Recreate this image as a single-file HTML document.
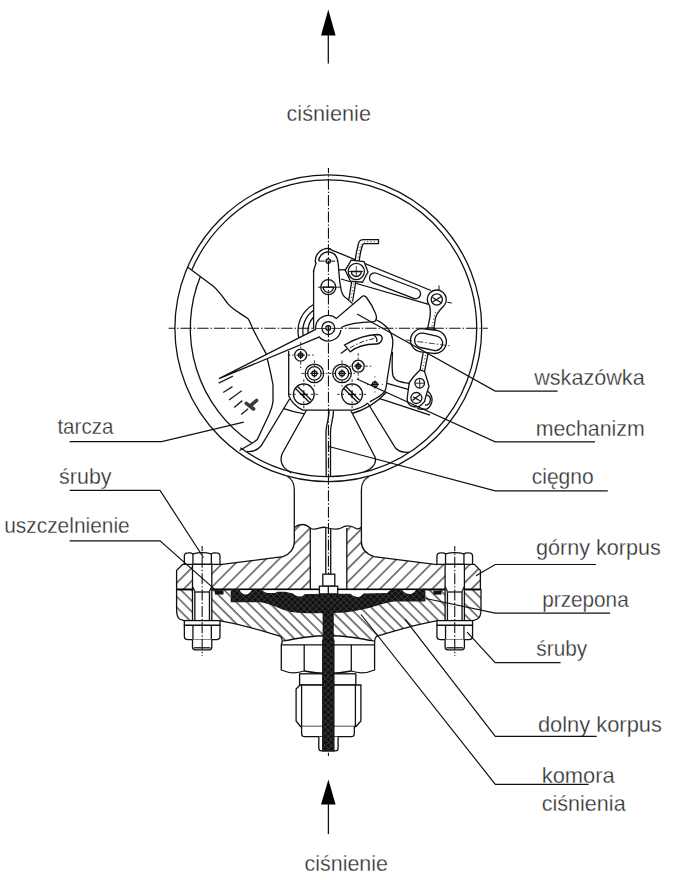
<!DOCTYPE html>
<html><head><meta charset="utf-8"><style>html,body{margin:0;padding:0;background:#fff}svg{display:block}</style></head>
<body><svg width="690" height="880" viewBox="0 0 690 880">
<defs>
<style>
.t{fill:none;stroke:#111;stroke-width:1.3}
.w{fill:#fff;stroke:#111;stroke-width:1.3}
.l{fill:none;stroke:#111;stroke-width:1.2}
.c{fill:none;stroke:#111;stroke-width:1.1;stroke-dasharray:11 2 1.4 2;stroke-dashoffset:5.75}
.ch{fill:none;stroke:#111;stroke-width:1.1;stroke-dasharray:11.4 2 1.4 2;stroke-dashoffset:5.0}
text{font-family:"Liberation Sans",sans-serif;font-size:21.5px;fill:#2e2e2e;stroke:#fff;stroke-width:0.3}
</style>
<pattern id="hu" patternUnits="userSpaceOnUse" width="9.247" height="9.247" patternTransform="rotate(45)"><line x1="0.84" y1="0" x2="0.84" y2="9.247" stroke="#000" stroke-width="1.0"/></pattern>
<pattern id="hb" patternUnits="userSpaceOnUse" width="7.64" height="7.64" patternTransform="rotate(-45)"><line x1="1.06" y1="0" x2="1.06" y2="7.64" stroke="#000" stroke-width="1.0"/></pattern>
<pattern id="blk" patternUnits="userSpaceOnUse" width="4.3" height="4.3" patternTransform="rotate(45)"><rect width="4.3" height="4.3" fill="#111"/><path d="M0,0 L0,4.3 M0,0 L4.3,0" stroke="#5a5a5a" stroke-width="0.8"/></pattern>
</defs>
<rect width="690" height="880" fill="#fff"/>
<polygon points="328.3,9.4 321,35.5 335.6,35.5" fill="#000"/>
<line x1="328.3" y1="35" x2="328.3" y2="63.5" class="t"/>
<polygon points="328.4,779.4 321,804.5 335.6,804.5" fill="#000"/>
<line x1="328.4" y1="804" x2="328.4" y2="834" class="t"/>
<line x1="328.45" y1="168" x2="328.45" y2="756" class="c"/>
<line x1="168.6" y1="328.2" x2="487.8" y2="328.2" class="ch"/>
<circle cx="328.3" cy="328.2" r="153.4" class="t"/>
<path d="M240.42,447.78 A148.4,148.4 0 1 0 191.91,269.71" class="t"/>
<path d="M200.46,276.23 A138.0,138.0 0 0 0 251.84,443.08" class="t"/>
<path d="M187.8,267.2 L199.6,276 L213.3,286.2 C218,290 223,297 227.8,303.6 C232,309 240,313 248.1,318.8 C250,321 251,325 252.5,328.2 L258.6,340 L266.1,353.6 L270.9,374.1 L273,385 L273,401.4 C272.5,406 271,410 269.5,413.6 L257.3,439.5 L252.5,443 L239.5,450.5" class="t"/>
<path d="M287.4,476.5 Q294.3,480 294.3,490 L294.3,542 Q294.3,552 283,556.7 L219.9,564.6" class="t"/>
<path d="M369.2,476.5 Q361.4,480 361.4,490 L361.4,542 Q361.4,552 374,556.7 L437,564.6" class="t"/>
<path d="M176.6,589.7 L481,589.7 L481,609.5 Q481,617 477.5,619 L472.3,620.8 L436.2,620.8 C412,625 392,632 377.3,636 Q375,637 374.6,641.5 Q328.5,630 282.3,641.5 Q282,637 279.7,636 C265,632 245,625 220.5,620.8 L184.7,620.8 L179.5,619 Q176.6,617 176.6,609.5 Z" fill="url(#hb)" stroke="#111" stroke-width="1.3"/>
<path d="M176.6,589.7 L176.6,570.4 L182.6,564.3 L219.9,564.6 L283,556.7 Q294.3,553 294.3,542 L294.3,527.5 C300,524 305,524 310.3,528 L310.3,589.7 Z" fill="url(#hu)" stroke="none"/>
<path d="M480.4,589.7 L480.4,570.4 L474.4,564.3 L437.1,564.6 L374,556.7 Q361.4,553 361.4,542 L361.4,527.5 C356,530 352,525 346.8,528 L346.8,589.7 Z" fill="url(#hu)" stroke="none"/>
<path d="M176.6,589.7 L176.6,570.4 L182.6,564.3 L184.5,564.3" class="t"/>
<path d="M480.4,589.7 L480.4,570.4 L474.4,564.3 L472.5,564.3" class="t"/>
<line x1="176.6" y1="589.3" x2="480.4" y2="589.3" stroke="#000" stroke-width="1.8"/>
<line x1="310.3" y1="528" x2="310.3" y2="589.7" class="t"/>
<line x1="346.8" y1="528" x2="346.8" y2="589.7" class="t"/>
<path d="M294.3,527.5 C300,523 306,524 311,528.5 C316,531 321,526 326,527.5 C331,529 336,530.5 341,528 C346,525 352,526 356,528.5 C359,530 360,528 361.4,527" class="t"/>
<rect x="230.7" y="590.2" width="194.7" height="8" fill="#fff"/>
<path d="M230.7,589.1 L239.3,589.5 C241,593 243,594.5 245.9,594.5 C249,594.5 250.5,592 252.2,589.6 L261.5,589.6 C263,591 265,593 267.6,593 L274.6,593 C276,593 276.5,591.7 277.2,591.7 L285,591.7 L293,593.6 C294.5,595.5 297,596.5 300.9,596.5 C303,596.5 304,594 305.2,593.9 L350.7,593.7 C352,595.5 355,597 358.5,597 C361,597 362.5,594 363.7,593.5 L387.2,593 C389,591 390,589.5 393.7,589.8 L402.4,590 C404,592.5 406.5,594 410.2,594 C412.5,594 414.5,592 416.3,589.8 L425.4,588.5 L425.4,601.5 L393.7,601.5 C385,603 378,605.5 369.8,607.8 C362,610 355,611 345,612.5 L333.8,613 L333.8,750.9 L322.6,750.9 L322.6,613 C312,613.8 300,613.2 289.8,611.7 C282,609.5 274,605.5 267.6,603.9 C264,603 262,602.2 260,602.2 L230.7,602.2 Z" fill="url(#blk)" stroke="none"/>
<rect x="215" y="590.3" width="8.5" height="4.2" fill="#111"/>
<rect x="433.3" y="590.7" width="8.2" height="3.9" fill="#111"/>
<path d="M184.35,564.3 L184.35,555.8 Q184.35,553.2 187.85,552.9 Q191.45000000000002,552.4 192.95000000000002,553.9 Q202.15,551.3 211.35,553.9 Q212.85,552.4 216.45000000000002,552.9 Q219.95000000000002,553.2 219.95000000000002,555.8 L219.95000000000002,564.3 Z" class="w"/>
<line x1="192.95000000000002" y1="553.9" x2="192.95000000000002" y2="564.3" class="t"/>
<line x1="211.35" y1="553.9" x2="211.35" y2="564.3" class="t"/>
<rect x="192.5" y="564.3" width="19.3" height="56.5" class="w"/>
<path d="M192.5,586.5 L194.85,591.5 M211.8,586.5 L209.45000000000002,591.5" class="t" stroke-width="1.1"/>
<line x1="194.85" y1="592" x2="209.45000000000002" y2="592" class="t" stroke-width="1.1"/>
<line x1="194.85" y1="591.5" x2="194.85" y2="620.8" class="t" stroke-width="1.1"/>
<line x1="209.45000000000002" y1="591.5" x2="209.45000000000002" y2="620.8" class="t" stroke-width="1.1"/>
<rect x="184.35" y="620.6" width="35.6" height="4.7" class="w"/>
<path d="M184.35,625.3 L219.95000000000002,625.3 L219.95000000000002,636.5 Q219.95000000000002,639.6 216.45000000000002,639.6 L187.85,639.6 Q184.35,639.6 184.35,636.5 Z" class="w"/>
<line x1="192.95000000000002" y1="625.3" x2="192.95000000000002" y2="639.6" class="t"/>
<line x1="211.35" y1="625.3" x2="211.35" y2="639.6" class="t"/>
<path d="M192.5,639.6 L192.5,647 Q192.5,649.8 195.0,649.8 L209.3,649.8 Q211.8,649.8 211.8,647 L211.8,639.6" class="w"/>
<line x1="194.0" y1="647.8" x2="210.3" y2="647.8" class="t" stroke-width="0.9"/>
<line x1="202.15" y1="546.1" x2="202.15" y2="655.9" class="c"/>
<path d="M436.95,564.3 L436.95,555.8 Q436.95,553.2 440.45,552.9 Q444.05,552.4 445.55,553.9 Q454.75,551.3 463.95,553.9 Q465.45,552.4 469.05,552.9 Q472.55,553.2 472.55,555.8 L472.55,564.3 Z" class="w"/>
<line x1="445.55" y1="553.9" x2="445.55" y2="564.3" class="t"/>
<line x1="463.95" y1="553.9" x2="463.95" y2="564.3" class="t"/>
<rect x="445.1" y="564.3" width="19.3" height="56.5" class="w"/>
<path d="M445.1,586.5 L447.45,591.5 M464.4,586.5 L462.05,591.5" class="t" stroke-width="1.1"/>
<line x1="447.45" y1="592" x2="462.05" y2="592" class="t" stroke-width="1.1"/>
<line x1="447.45" y1="591.5" x2="447.45" y2="620.8" class="t" stroke-width="1.1"/>
<line x1="462.05" y1="591.5" x2="462.05" y2="620.8" class="t" stroke-width="1.1"/>
<rect x="436.95" y="620.6" width="35.6" height="4.7" class="w"/>
<path d="M436.95,625.3 L472.55,625.3 L472.55,636.5 Q472.55,639.6 469.05,639.6 L440.45,639.6 Q436.95,639.6 436.95,636.5 Z" class="w"/>
<line x1="445.55" y1="625.3" x2="445.55" y2="639.6" class="t"/>
<line x1="463.95" y1="625.3" x2="463.95" y2="639.6" class="t"/>
<path d="M445.1,639.6 L445.1,647 Q445.1,649.8 447.6,649.8 L461.9,649.8 Q464.4,649.8 464.4,647 L464.4,639.6" class="w"/>
<line x1="446.6" y1="647.8" x2="462.9" y2="647.8" class="t" stroke-width="0.9"/>
<line x1="454.75" y1="546.1" x2="454.75" y2="655.9" class="c"/>
<path d="M329,410.5 C329.5,418 326,424 326,432 L326.2,476 M333.5,410.5 C333.5,419 330.5,424 330.5,432 L330.5,476" class="t" stroke-width="1.1"/>
<path d="M325.8,528 L325.8,574.2 M330.7,528 L330.7,574.2" class="t" stroke-width="1"/>
<rect x="322.8" y="574.2" width="12" height="12" class="w"/>
<rect x="319.4" y="586.2" width="18.3" height="7.7" class="w"/>
<line x1="328.3" y1="586.2" x2="328.3" y2="593.9" class="t" stroke-width="1"/>
<path d="M282.3,641.5 L281.3,644.8 L281.3,670 Q292.7,675 304.2,671 Q327.7,676 351.3,671 Q363,675 374.6,670 L374.6,644.8 L374.6,641.5" class="w"/>
<line x1="281.3" y1="644.8" x2="374.6" y2="644.8" class="t"/>
<line x1="304.2" y1="644.8" x2="304.2" y2="671" class="t"/>
<line x1="351.3" y1="644.8" x2="351.3" y2="671" class="t"/>
<rect x="299.6" y="673.8" width="56.2" height="11.2" class="w"/>
<path d="M300,685 L360.9,685 L360.9,721 L356,726.5 L300.5,726.5 L296.1,721 L296.1,689 Z" class="w"/>
<line x1="301.6" y1="685" x2="301.6" y2="726.5" class="t"/>
<line x1="355.4" y1="685" x2="355.4" y2="726.5" class="t"/>
<path d="M301.6,726.5 L301.6,733.5 Q301.6,736.7 305,736.7 L351,736.7 Q354.3,736.7 354.3,733.5 L354.3,726.5" class="w"/>
<path d="M318.8,736.7 L318.8,748 Q318.8,750.9 321.5,750.9 L335.5,750.9 Q338.1,750.9 338.1,748 L338.1,736.7" class="w"/>
<rect x="322.6" y="640" width="11.4" height="110.9" fill="url(#blk)" stroke="#111" stroke-width="1"/>
<path d="M289.5,399 L261,446 Q256,452 247,451.5" class="t"/>
<path d="M306.5,410 L282,454 Q278,466 291.3,472.8" class="t"/>
<path d="M351,411 L375,457 Q378,466 364,472" class="t"/>
<path d="M368,403.5 L395.5,448 Q400,453 409,452.2" class="t"/>
<path d="M283.9,408.7 Q294,412.5 304.8,413.9" class="t"/>
<path d="M352,413.5 Q372,408 386.4,392.3" class="t"/>
<line x1="218.6" y1="383.2" x2="233" y2="376.2" stroke="#222" stroke-width="1.4"/>
<line x1="223.2" y1="392.5" x2="232.5" y2="386.7" stroke="#222" stroke-width="1.4"/>
<line x1="229" y1="400" x2="241.7" y2="390.7" stroke="#222" stroke-width="1.4"/>
<line x1="234.2" y1="407.5" x2="242.3" y2="400.6" stroke="#222" stroke-width="1.4"/>
<line x1="241.2" y1="414.5" x2="248.1" y2="408.7" stroke="#222" stroke-width="1.4"/>
<path d="M246.3,403.3 L253.6,409 M250,406.2 L256.5,400.5" stroke="#3a3a3a" stroke-width="3.6" stroke-linecap="round" fill="none"/>
<path d="M288.7,351 L288.7,395.7 Q292.4,404.9 302.8,410.1 L352.5,410.1 Q362,408 368,403" class="t"/>
<path d="M376.5,320 C386,324.5 391.5,330 392.8,340 C393.3,348 391.5,352 390.5,358 C389.5,366 388,373 387.1,379.8 C386.5,386 385.5,390 384.8,391.4 C383,394 380,396.5 369.7,401.8" class="t"/>
<path d="M392.5,352 C392,362 392,372 393,376 C395,381 400,382 409.1,383.3" class="t"/>
<line x1="387.1" y1="383.3" x2="409.1" y2="389.6" class="t"/>
<line x1="379" y1="398.3" x2="430" y2="415.1" class="t"/>
<path d="M316.1,329.2 L219,378.6 L320.1,336.7" class="w"/>
<path d="M313.6,304.50 A30.3,30.3 0 0 0 298.82,338.00" class="t"/>
<path d="M313.6,310.16 A25.5,25.5 0 0 0 303.25,335.76" class="t"/>
<path d="M313.6,317.00 A20.3,20.3 0 0 0 308.13,333.26" class="t"/>
<line x1="313.6" y1="270" x2="313.6" y2="329" class="t"/>
<path d="M315.6,328 A12.7,12.7 0 0 1 336.4,318.4 L361.5,297 Q364,294.5 366.5,297.5 C370,302 373,307 375.5,313.6 C377,317 377,320 374.3,321.7 C365,322 350,323 341,327.5" class="w"/>
<path d="M319.6,337.5 A12.7,12.7 0 0 0 340.9,330" class="t"/>
<circle cx="328.3" cy="328.1" r="6.4" class="t"/>
<circle cx="328.3" cy="328.1" r="2.4" class="t" stroke-width="1.1"/>
<line x1="328.3" y1="325" x2="328.3" y2="331" class="t" stroke-width="0.9"/>
<path d="M344.5,345 C355,339 366,334.5 377.8,334.5 Q383,335 382,339.5 Q380.5,344 376,344 C366,344 356,347 350.3,351.8 Z" class="w"/>
<path d="M350,348 C358,343 366,340 374.3,338.6" fill="none" stroke="#111" stroke-width="0.9" stroke-dasharray="5 2 1.5 2"/>
<path d="M373.2,334.5 Q378,338 376.7,342" class="t" stroke-width="0.9"/>
<line x1="341" y1="353.6" x2="346.8" y2="348.9" class="t"/>
<path d="M315.5,263 A12.6,12.6 0 0 1 331,248.8" class="t"/>
<path d="M318.7,261.1 A9.5,9.5 0 0 1 337.4,259.1 L338.2,263.8 L339.7,281.3 L341.3,290.9 Q343,296.5 346.1,298 L352.6,303.4" class="t"/>
<path d="M316.3,262.3 L313.6,270.6 L313.6,272" class="t"/>
<circle cx="328.2" cy="261.1" r="2.2" class="t" stroke-width="1.1"/>
<line x1="318.7" y1="261.1" x2="337.4" y2="261.1" stroke="#111" stroke-width="1" stroke-dasharray="6 1.5 1.5 1.5"/>
<circle cx="328.3" cy="287.2" r="7.5" class="t"/>
<path d="M323.1,287.2 A5.2,5.2 0 0 0 333.5,287.2 Z" class="t" stroke-width="1"/>
<line x1="318" y1="287.2" x2="340" y2="287.2" stroke="#111" stroke-width="0.9"/>
<path d="M329.4,249.1 L431,290.5" class="t"/>
<path d="M341,279 L428.7,304.3" class="t"/>
<line x1="338.7" y1="269.8" x2="345.7" y2="269.8" class="t"/>
<g transform="translate(395,285.8) rotate(21)"><rect x="-27" y="-5" width="54" height="10" rx="5" class="t"/></g>
<path d="M429.5,305.6 A9.5,9.5 0 1 1 444.6,304.9 C440,310 436.5,313 435.5,318 L433.6,330 L427.3,330 L430,317 C430.5,312 430.2,308 429.5,305.6 Z" class="w"/>
<circle cx="436.8" cy="299.5" r="5.6" class="t"/>
<path d="M432.5,302 L441.5,296.5 M432.5,297.5 L441,302.5" class="t" stroke-width="0.9"/>
<path d="M439,285.5 L439,290 M447.3,302.3 L451.8,303" fill="none" stroke="#111" stroke-width="1"/>
<path d="M435.5,312 L431.5,328" fill="none" stroke="#111" stroke-width="0.8" stroke-dasharray="1.2 2.2"/>
<path d="M348.6,301.1 L356.5,252 L358.5,243.5 Q359.5,239.7 363.5,239.7 L378.5,239.7 L378.5,243.6 L364.5,243.6 Q362.8,243.6 362.2,246 L360.5,252.5 L352.6,301.5" class="w" stroke-width="1.1"/>
<path d="M350.6,301.3 L359,252 Q360.5,241.7 366,241.7 L377,241.7" fill="none" stroke="#111" stroke-width="0.8" stroke-dasharray="1.2 2.2"/>
<polygon points="345.3,270.2 351.2,260.2 364,261.5 368,272 362.5,282.2 350.5,281.2" class="w"/>
<circle cx="356.3" cy="271.5" r="8.1" class="t"/>
<path d="M351.3,271.5 A5,5 0 0 0 361.3,271.5 Z" class="t" stroke-width="1"/>
<path d="M349,271.5 L363,271.5 M356.3,266 L356.3,277" fill="none" stroke="#111" stroke-width="0.8"/>
<path d="M416.4,331.5 Q425,330 427.3,328 L433.6,328 Q436,331 444.5,337.3" class="t"/>
<g transform="translate(428.45,341.1) rotate(7)"><rect x="-18" y="-11.6" width="36" height="23.2" rx="11.6" class="w"/></g>
<g transform="translate(428.6,341.8) rotate(12)"><rect x="-14.2" y="-7.3" width="28.4" height="14.6" rx="7.3" class="t"/></g>
<path d="M406,340 L451,346" fill="none" stroke="#111" stroke-width="0.8" stroke-dasharray="6 2 1.5 2"/>
<path d="M423.1,353 L420.1,370 M428.2,353 L424.5,371.4" class="t"/>
<path d="M425.6,355 L422.5,370" fill="none" stroke="#111" stroke-width="0.8" stroke-dasharray="1.2 2.2"/>
<path d="M428.2,391.4 C431,394 432.5,398 431.9,401.7 C431,406 428,409 426,409.1 C422,409.5 419,409 417.2,408.3" class="t"/>
<path d="M426.5,394.8 A5.3,5.3 0 0 1 425,405.2" class="t"/>
<path d="M420.1,370 C416,374 413,377 412,378.8 C410,381 409,383 409,384.7 L407.2,398 C407,402 409,405.5 412,406.1 C414,407 416.5,407 418.6,406.9 C421,405.5 423,403.5 424.5,401.7 L426,395.8 L429,386.2 L427.5,381 L424.5,371.4 Z" class="w"/>
<circle cx="419.7" cy="383.2" r="4.8" class="t"/>
<path d="M415.5,383.2 L423.9,383.2 M419.7,379 L419.7,387.4" fill="none" stroke="#111" stroke-width="0.9"/>
<circle cx="416.4" cy="398" r="5.5" class="t"/>
<path d="M412.5,400.5 L420,394.5 M413,397 L420.5,401" class="t" stroke-width="0.9"/>
<circle cx="300.7" cy="355.1" r="6" class="t"/>
<circle cx="300.7" cy="355.1" r="2.2" class="t" stroke-width="0.9"/>
<path d="M287.7,355.1 L293.7,355.1 M307.7,355.1 L313.7,355.1 M300.7,342.1 L300.7,348.1 M300.7,362.1 L300.7,368.1" fill="none" stroke="#111" stroke-width="0.9" stroke-dasharray="2.5 2"/><path d="M296.7,355.1 L304.7,355.1 M300.7,351.1 L300.7,359.1" fill="none" stroke="#111" stroke-width="1.2"/>
<circle cx="358.2" cy="366.2" r="6" class="t"/>
<circle cx="358.2" cy="366.2" r="2.2" class="t" stroke-width="0.9"/>
<path d="M345.2,366.2 L351.2,366.2 M365.2,366.2 L371.2,366.2 M358.2,353.2 L358.2,359.2 M358.2,373.2 L358.2,379.2" fill="none" stroke="#111" stroke-width="0.9" stroke-dasharray="2.5 2"/><path d="M354.2,366.2 L362.2,366.2 M358.2,362.2 L358.2,370.2" fill="none" stroke="#111" stroke-width="1.2"/>
<circle cx="314.4" cy="373.4" r="9.3" class="t"/>
<circle cx="314.4" cy="373.4" r="6.7" class="t"/>
<circle cx="314.4" cy="373.4" r="2.5" class="t" stroke-width="0.9"/>
<path d="M301.4,373.4 L307.4,373.4 M321.4,373.4 L327.4,373.4 M314.4,360.4 L314.4,366.4 M314.4,380.4 L314.4,386.4" fill="none" stroke="#111" stroke-width="0.9" stroke-dasharray="2.5 2"/><path d="M310.4,373.4 L318.4,373.4 M314.4,369.4 L314.4,377.4" fill="none" stroke="#111" stroke-width="1.2"/>
<circle cx="342.0" cy="373.4" r="9.3" class="t"/>
<circle cx="342.0" cy="373.4" r="6.7" class="t"/>
<circle cx="342.0" cy="373.4" r="2.5" class="t" stroke-width="0.9"/>
<path d="M329.0,373.4 L335.0,373.4 M349.0,373.4 L355.0,373.4 M342.0,360.4 L342.0,366.4 M342.0,380.4 L342.0,386.4" fill="none" stroke="#111" stroke-width="0.9" stroke-dasharray="2.5 2"/><path d="M338.0,373.4 L346.0,373.4 M342.0,369.4 L342.0,377.4" fill="none" stroke="#111" stroke-width="1.2"/>
<circle cx="303.8" cy="394.3" r="10.4" class="t"/>
<path d="M297.3,386.3 L311.3,400.3 M295.8,388.8 L309.8,402.8" class="t"/>
<path d="M288.8,394.3 L296.8,394.3 M310.8,394.3 L318.8,394.3 M303.8,379.3 L303.8,387.3 M303.8,401.3 L303.8,409.3" fill="none" stroke="#111" stroke-width="0.9" stroke-dasharray="2.5 2"/><path d="M299.8,394.3 L307.8,394.3 M303.8,390.3 L303.8,398.3" fill="none" stroke="#111" stroke-width="1.2"/>
<circle cx="352.1" cy="394.3" r="10.4" class="t"/>
<path d="M345.6,386.3 L359.6,400.3 M344.1,388.8 L358.1,402.8" class="t"/>
<path d="M337.1,394.3 L345.1,394.3 M359.1,394.3 L367.1,394.3 M352.1,379.3 L352.1,387.3 M352.1,401.3 L352.1,409.3" fill="none" stroke="#111" stroke-width="0.9" stroke-dasharray="2.5 2"/><path d="M348.1,394.3 L356.1,394.3 M352.1,390.3 L352.1,398.3" fill="none" stroke="#111" stroke-width="1.2"/>
<circle cx="374.9" cy="384.4" r="2.4" class="t" stroke-width="1.6"/>
<path d="M366.9,384.4 L367.9,384.4 M381.9,384.4 L382.9,384.4 M374.9,376.4 L374.9,377.4 M374.9,391.4 L374.9,392.4" fill="none" stroke="#111" stroke-width="0.9" stroke-dasharray="2.5 2"/><path d="M370.9,384.4 L378.9,384.4 M374.9,380.4 L374.9,388.4" fill="none" stroke="#111" stroke-width="1.2"/>
<text x="286.5" y="121.2" textLength="84.5" lengthAdjust="spacingAndGlyphs">ciśnienie</text>
<text x="304.5" y="870.8" textLength="83.5" lengthAdjust="spacingAndGlyphs">ciśnienie</text>
<text x="534.2" y="384.6" textLength="110.5" lengthAdjust="spacingAndGlyphs">wskazówka</text>
<text x="535.7" y="436.3" textLength="109" lengthAdjust="spacingAndGlyphs">mechanizm</text>
<text x="531.7" y="484.4" textLength="62" lengthAdjust="spacingAndGlyphs">cięgno</text>
<text x="57.4" y="434.2" textLength="56" lengthAdjust="spacingAndGlyphs">tarcza</text>
<text x="59.1" y="484.0" textLength="52.5" lengthAdjust="spacingAndGlyphs">śruby</text>
<text x="4.2" y="533.4" textLength="125.5" lengthAdjust="spacingAndGlyphs">uszczelnienie</text>
<text x="535.9" y="555.3" textLength="125" lengthAdjust="spacingAndGlyphs">górny korpus</text>
<text x="542.2" y="606.8" textLength="86.5" lengthAdjust="spacingAndGlyphs">przepona</text>
<text x="536.3" y="656.2" textLength="51" lengthAdjust="spacingAndGlyphs">śruby</text>
<text x="537.9" y="731.7" textLength="124" lengthAdjust="spacingAndGlyphs">dolny korpus</text>
<text x="541.7" y="783.3" textLength="73" lengthAdjust="spacingAndGlyphs">komora</text>
<text x="541.7" y="810.5" textLength="84" lengthAdjust="spacingAndGlyphs">ciśnienia</text>
<polyline points="357,314 495.2,391.1 557.6,391.1" class="l"/>
<polyline points="357,379 495.2,441.9 595,441.9" class="l"/>
<polyline points="329,446.5 495.2,490.9 607.8,490.9" class="l"/>
<polyline points="243.8,422.2 161.7,441.7 69.6,441.7" class="l"/>
<polyline points="203.5,557.5 160,490.4 69.6,490.4" class="l"/>
<polyline points="216.5,590.9 160,540.9 69.6,540.9" class="l"/>
<polyline points="476,575.7 495.2,564.5 596.1,564.5" class="l"/>
<polyline points="425.8,598.5 495.2,613.2 610,613.2" class="l"/>
<polyline points="467.1,632.1 495.2,662.6 560.6,662.6" class="l"/>
<polyline points="405,619.3 495.3,736.4 596.7,736.4" class="l"/>
<polyline points="361,614.5 495.3,784.3 588.6,784.3" class="l"/>
</svg></body></html>
